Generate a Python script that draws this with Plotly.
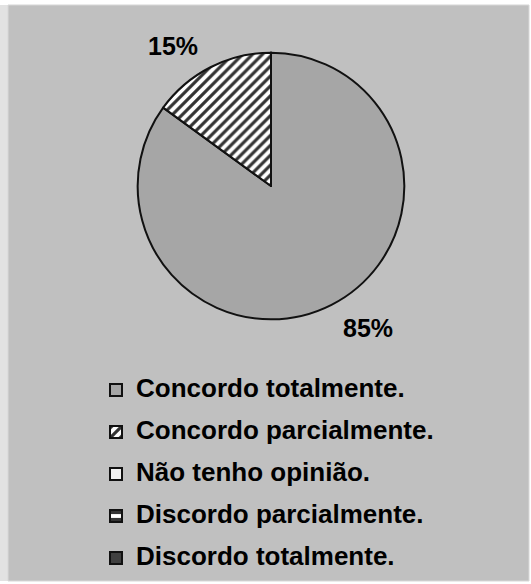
import plotly.graph_objects as go

# Survey answers and their shares (%)
categories = [
    "Concordo totalmente.",
    "Concordo parcialmente.",
    "Não tenho opinião.",
    "Discordo parcialmente.",
    "Discordo totalmente.",
]
shares = [85, 15, 0, 0, 0]

fills = ["#a6a6a6", "#ffffff", "#f2f2f2", "#ffffff", "#404040"]
patterns = ["", "/", "", "-", ""]

W, H = 531, 584
cx, cy, r = 271, 187, 134  # pie centre and radius in px

# legend rows are spaced by the legend font size; the label itself is drawn smaller
legend_labels = [
    f'<span style="font-size:26px;baseline-shift:5px">{c}</span>' for c in categories
]

fig = go.Figure(
    go.Pie(
        labels=legend_labels,
        values=shares,
        sort=False,
        direction="clockwise",
        rotation=0,
        textinfo="none",
        hoverinfo="label+percent",
        marker=dict(
            colors=fills,
            line=dict(color="#111111", width=2),
            pattern=dict(
                shape=patterns,
                fgcolor="#333333",
                bgcolor="#ffffff",
                size=7,
                solidity=0.45,
            ),
        ),
        domain=dict(
            x=[(cx - r) / W, (cx + r) / W],
            y=[(H - cy - r) / H, (H - cy + r) / H],
        ),
    )
)

# percentage labels placed outside the slices
label_pos = {0: (368, 330), 1: (173, 46)}
annotations = []
for i, (px, py) in label_pos.items():
    annotations.append(
        dict(
            x=px / W, y=1 - py / H, xref="paper", yref="paper",
            xanchor="center", yanchor="middle",
            text=f"{shares[i]}%", showarrow=False,
            font=dict(family="Liberation Sans, Arial", size=25, color="#000000",
                      weight="bold"),
        )
    )

fig.update_layout(
    width=W, height=H,
    margin=dict(l=0, r=0, t=0, b=0),
    paper_bgcolor="#ffffff",
    plot_bgcolor="#ffffff",
    annotations=annotations,
    shapes=[
        dict(type="rect", xref="paper", yref="paper",
             x0=0, x1=8 / W, y0=0, y1=1 - 5 / H,
             fillcolor="#e2e2e2", line=dict(width=0), layer="below"),
        dict(type="rect", xref="paper", yref="paper",
             x0=8 / W, x1=529 / W, y0=0, y1=1 - 5 / H,
             fillcolor="#c0c0c0", line=dict(color="#d8d8d8", width=1),
             layer="below"),
    ],
    legend=dict(
        x=96 / W, y=1 - 366 / H, xanchor="left", yanchor="top",
        bgcolor="rgba(0,0,0,0)",
        font=dict(family="Liberation Sans, Arial", size=30, color="#000000",
                  weight="bold"),
        itemwidth=30,
        traceorder="normal",
    ),
)

fig.write_html("out.html")
